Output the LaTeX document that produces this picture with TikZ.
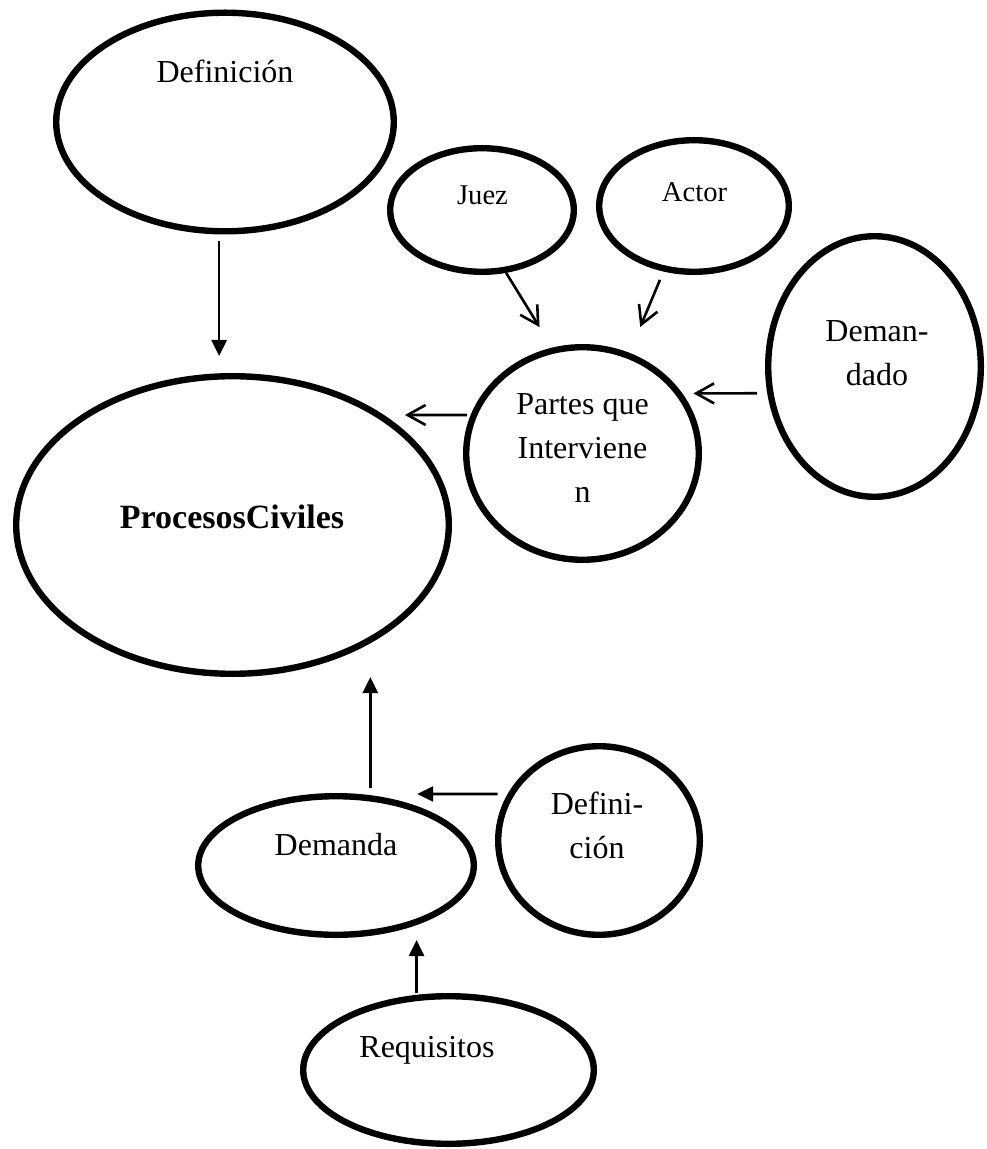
\documentclass[tikz,border=0pt]{standalone}
\usepackage{fontspec}
\setmainfont{Liberation Serif}
\usetikzlibrary{shapes.geometric,arrows.meta}

\begin{document}
\begin{tikzpicture}[x=0.5pt,y=-0.5pt,
        oval/.style={draw,ellipse,line width=3.2pt,inner sep=0pt},
        txt/.style={font=\fontsize{16}{22}\selectfont,align=center},
        smalltxt/.style={font=\fontsize{14.3}{18}\selectfont},
        solidarr/.style={-{Triangle[length=8pt,width=7.5pt]},line width=1.3pt},
        openarr/.style={-{Straight Barb[length=9pt,width=10pt]},line width=1.3pt}]
        % page size of the reference
        \useasboundingbox (0,0) rectangle (986,1149);

        % the ellipses
        \node[oval,minimum width=168.8pt,minimum height=109.3pt] (def) at (225,122) {};
        \node[oval,minimum width=91.8pt,minimum height=61.8pt] (juez) at (482,210) {};
        \node[oval,minimum width=94.8pt,minimum height=65.8pt] (actor) at (694,206) {};
        \node[oval,minimum width=106.3pt,minimum height=130.3pt] (demandado) at (874.5,366.5) {};
        \node[oval,minimum width=116.3pt,minimum height=106.3pt] (partes) at (582.5,453.5) {};
        \node[oval,minimum width=216.3pt,minimum height=148.8pt] (procesos) at (232.5,525) {};
        \node[oval,minimum width=137.8pt,minimum height=69.3pt] (demanda) at (336,865.5) {};
        \node[oval,minimum width=100.8pt,minimum height=94.3pt] (defdem) at (599,840.5) {};
        \node[oval,minimum width=145.3pt,minimum height=73.8pt] (requisitos) at (448.5,1070) {};

        % the texts inside
        \node[txt,anchor=base] (deft) at (225,83) {Definición};
        \node[smalltxt,anchor=base] (jueztxt) at (482.5,205) {Juez};
        \node[smalltxt,anchor=base] (actortxt) at (694.5,202) {Actor};
        \node[txt] (demandadotxt) at (877,353) {Deman-\\dado};
        \node[txt] (partestxt) at (582.5,448) {Partes que\\Interviene\\n};
        \node[txt,font=\fontsize{17}{22}\selectfont\bfseries,anchor=base] (procesostxt) at (232,528) {ProcesosCiviles};
        \node[txt,anchor=base] (demandatxt) at (336,855) {Demanda};
        \node[txt] (defdemtxt) at (597,825) {Defini-\\ción};
        \node[txt,anchor=base] (requisitostxt) at (427,1057) {Requisitos};

        % filled arrows
        \draw[solidarr,shorten <=3.5pt,shorten >=8.5pt] (def.-93) -- (def.-93 |- procesos.north);
        \draw[solidarr,shorten <=3.5pt] (demanda.64) -- (demanda.64 |- procesos.south);
        \draw[solidarr,shorten <=5pt,shorten >=29pt] (defdem.153) -- (demanda.72);
        \draw[solidarr,shorten <=1pt,shorten >=1pt] (requisitos.113) -- (requisitos.113 |- demanda.south);

        % open arrows
        \draw[openarr,shorten >=12pt] (juez.-69) -- (partes.106);
        \draw[openarr,shorten <=4.5pt,shorten >=14pt] (actor.-115) -- (partes.65);
        \draw[openarr,shorten <=5pt,shorten >=5.5pt] (demandado.194) -- (partes.31);
        \draw[openarr,shorten <=1.8pt,shorten >=10.5pt] (partes.161) -- (procesos.36);
\end{tikzpicture}
\end{document}
